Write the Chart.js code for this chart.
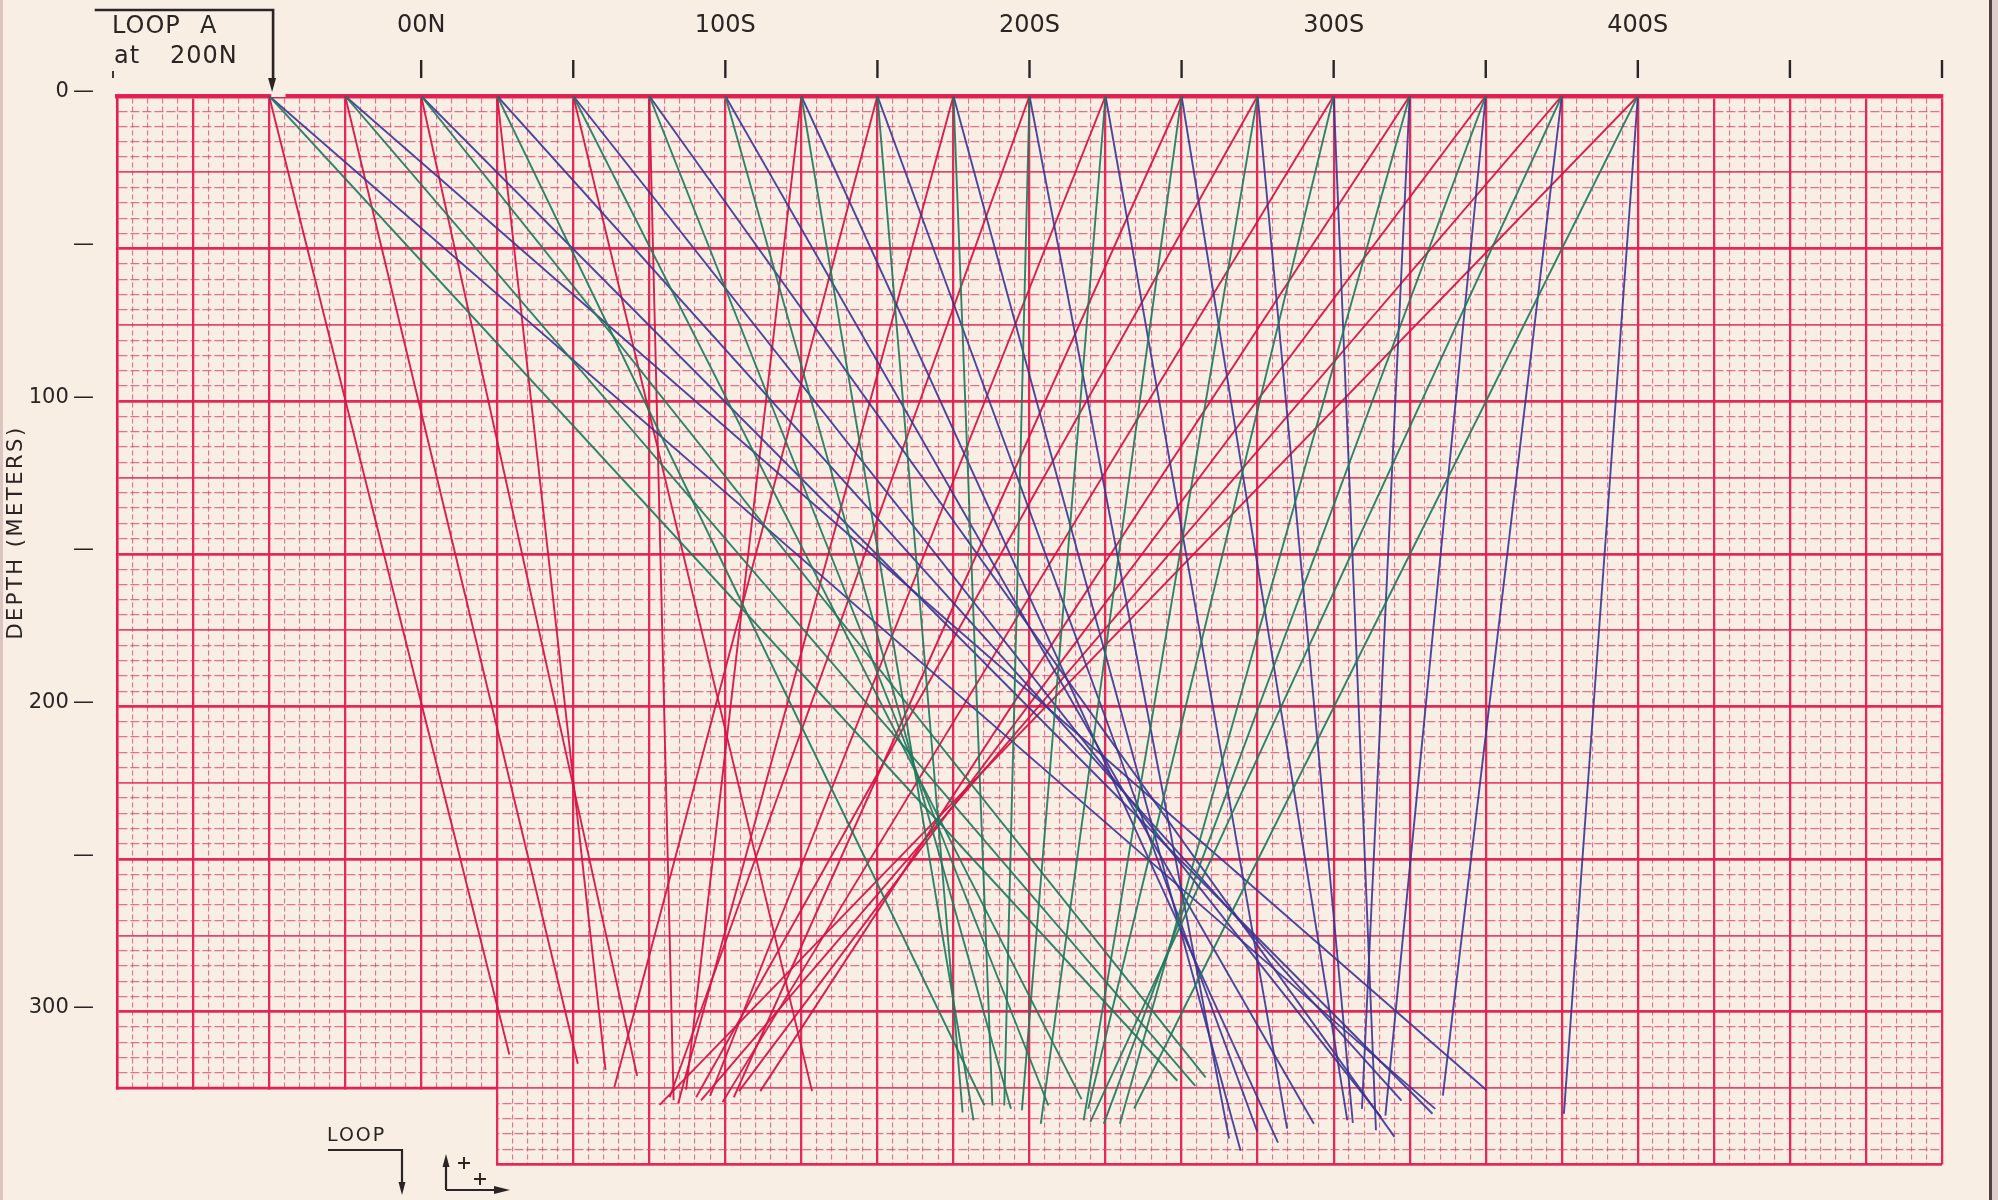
<!DOCTYPE html>
<html>
<head>
<meta charset="utf-8">
<title>Loop A ray section</title>
<script src="https://cdn.jsdelivr.net/npm/chart.js@4.4.1/dist/chart.umd.min.js"></script>
<style>
  html, body { margin: 0; padding: 0; background: #f8eee3; }
  #wrap { width: 1998px; height: 1200px; position: relative; }
  canvas { display: block; }
</style>
</head>
<body>
<div id="wrap"><canvas id="sheet" width="1998" height="1200"></canvas></div>
<script>
// ---- data -------------------------------------------------------------
// surface stations (m along the line, south positive) where each ray starts
const stations = [-50, -25, 0, 25, 50, 75, 100, 125, 150, 175, 200, 225, 250, 275, 300, 325, 350, 375, 400];

// bottom end of each ray: position along the line and depth (m)
const redBottomX      = [29, 51.5, 71, 60.6, 128.5, 83, null, 87.1, 63.5, 84.5, 81.7, 95, 102.8, 90.4, 99.1, 111.5, 104.5, 92, 78.4];
const redBottomDepth  = [314, 317, 321, 319, 326, 329, null, 325.5, 324.7, 330, 328, 327.6, 328, 328, 329.6, 326, 326, 329, 330.5];
const greenBottomX    = [248.6, 254.5, 257.9, 185.2, 217.1, 206.2, 193.9, 181.6, 178, 187.8, 191.7, 197.5, 203.7, 217.8, 219.3, 229.7, 224.4, 220, 234.4];
const greenBottomDepth= [322.6, 324.3, 321.5, 330.7, 328.6, 330.7, 331.8, 335.6, 333, 330.7, 330.7, 332.3, 336.7, 335.6, 331.8, 336.7, 336.7, 336.1, 331.7];
const blueBottomX     = [333.4, 350.3, 332.5, 322.3, 315.6, 320, 293.5, 281.7, 274.9, 269.4, 265.6, 284.7, 304.5, 306.3, 313.9, 309.3, 317, 335.9, 375.7];
const blueBottomDepth = [331.8, 325.7, 333.4, 329.1, 334.5, 341, 336.7, 342.9, 339.3, 345.5, 341.5, 338.3, 335.6, 336.4, 338.8, 331.8, 334, 327.5, 333.4];

// station labels along the top
const stationLabelPos = [0, 100, 200, 300, 400];
const stationLabels   = ['00N', '100S', '200S', '300S', '400S'];

// depth labels down the left side
const depthLabelPos = [0, 50, 100, 150, 200, 250, 300];
const depthLabels   = ['0', '', '100', '', '200', '', '300'];

// ---- sheet geometry ---------------------------------------------------
const X_MIN = -100, X_MAX = 500, DEPTH_MAX = 350;
const WEST_FLOOR = 325;      // sheet is cut at this depth ...
const WEST_FLOOR_END = 25;   // ... west of this station
const LOOP_STATION = -50;

// ---- colours ----------------------------------------------------------
const PAPER = '#f8eee3';
const INK = '#2a2425';
const RULE_MAJOR = 'rgba(228,30,78,0.95)';
const RULE_MID = 'rgba(228,40,88,0.85)';
const RULE_MINOR = 'rgba(224,62,106,0.72)';
const RAY_RED = 'rgba(214,20,68,0.95)';
const RAY_GREEN = 'rgba(30,122,94,0.92)';
const RAY_BLUE = 'rgba(55,52,148,0.9)';

const xGrid = [];
for (let v = X_MIN; v <= X_MAX; v += 5) xGrid.push(v);
const yGrid = [];
for (let v = 0; v <= DEPTH_MAX; v += 5) yGrid.push(v);

function rays(endX, endDepth, color) {
  const out = [];
  stations.forEach((s, i) => {
    if (endX[i] == null) return;
    out.push({
      data: [{ x: s, y: 0 }, { x: endX[i], y: endDepth[i] }],
      borderColor: color,
      borderWidth: 1.9,
      pointRadius: 0,
      fill: false,
      tension: 0
    });
  });
  return out;
}

const datasets = [
  ...rays(greenBottomX, greenBottomDepth, RAY_GREEN),
  ...rays(blueBottomX, blueBottomDepth, RAY_BLUE),
  ...rays(redBottomX, redBottomDepth, RAY_RED)
];

const vWidth = v => (v % 25 === 0 ? 2.3 : 1.1);
const vColor = v => (v % 25 === 0 ? RULE_MAJOR : RULE_MINOR);
const vDash  = v => (v % 25 === 0 ? [] : [5, 3]);
const hWidth = v => (v % 50 === 0 ? 2.7 : (v % 25 === 0 ? 1.7 : 1.2));
const hColor = v => (v % 50 === 0 ? RULE_MAJOR : (v % 25 === 0 ? RULE_MID : RULE_MINOR));
const hDash  = v => (v % 25 === 0 ? [] : [9, 3]);

function arrowHead(ctx, tipX, tipY, dx, dy, len, half) {
  // dx,dy: unit direction the arrow points to
  const bx = tipX - dx * len, by = tipY - dy * len;
  ctx.beginPath();
  ctx.moveTo(tipX, tipY);
  ctx.lineTo(bx - dy * half, by + dx * half);
  ctx.lineTo(bx + dy * half, by - dx * half);
  ctx.closePath();
  ctx.fill();
}

const sheetPlugin = {
  id: 'sheet',
  beforeDraw(chart) {
    const { ctx, width, height } = chart;
    ctx.save();
    ctx.fillStyle = PAPER;
    ctx.fillRect(0, 0, width, height);
    ctx.restore();
  },
  afterDraw(chart) {
    const { ctx, scales: { x, y }, chartArea } = chart;
    const px = v => x.getPixelForValue(v);
    const py = v => y.getPixelForValue(v);
    ctx.save();

    // lower-left corner of the sheet has no ruling
    ctx.fillStyle = PAPER;
    ctx.fillRect(0, py(WEST_FLOOR) + 1.4, px(WEST_FLOOR_END) - 1.2, chart.height);
    ctx.strokeStyle = RULE_MAJOR;
    ctx.lineWidth = 2.6;
    ctx.beginPath();
    ctx.moveTo(px(X_MIN) - 1.2, py(WEST_FLOOR));
    ctx.lineTo(px(WEST_FLOOR_END), py(WEST_FLOOR));
    ctx.stroke();

    // small break in the top rule beside the loop arrow
    ctx.fillStyle = PAPER;
    ctx.fillRect(px(LOOP_STATION) + 2.2, chartArea.top - 6, px(LOOP_STATION + 5) - px(LOOP_STATION) - 1, 7);

    // station tick marks above the sheet
    ctx.strokeStyle = INK;
    ctx.lineWidth = 2.4;
    for (let v = 0; v <= X_MAX; v += 50) {
      ctx.beginPath();
      ctx.moveTo(px(v), 60);
      ctx.lineTo(px(v), 78);
      ctx.stroke();
    }
    ctx.lineWidth = 1.8;
    ctx.beginPath();
    ctx.moveTo(px(X_MIN) - 4, 71);
    ctx.lineTo(px(X_MIN) - 4, 78);
    ctx.stroke();

    // LOOP A box with arrow down to its station
    const ax = px(LOOP_STATION) + 4;
    ctx.lineWidth = 2.6;
    ctx.lineCap = 'square';
    ctx.beginPath();
    ctx.moveTo(96, 10);
    ctx.lineTo(ax, 10);
    ctx.lineTo(ax, 80);
    ctx.stroke();
    ctx.fillStyle = INK;
    arrowHead(ctx, ax - 1, 92, 0, 1, 14, 4);

    ctx.fillStyle = INK;
    ctx.textBaseline = 'alphabetic';
    ctx.textAlign = 'left';
    ctx.font = '24px "DejaVu Sans"';
    ctx.letterSpacing = '1px';
    ctx.fillText('LOOP', 112, 33);
    ctx.fillText('A', 200, 33);
    ctx.fillText('at', 114, 63);
    ctx.fillText('200N', 170, 63);

    // depth axis title
    ctx.save();
    ctx.translate(17, py(143));
    ctx.rotate(-Math.PI / 2);
    ctx.textAlign = 'center';
    ctx.textBaseline = 'middle';
    ctx.font = '21px "DejaVu Sans"';
    ctx.letterSpacing = '2.5px';
    ctx.fillText('DEPTH (METERS)', 0, 0);
    ctx.restore();

    // loop orientation key, bottom left
    ctx.font = '19px "DejaVu Sans"';
    ctx.letterSpacing = '2px';
    ctx.textAlign = 'left';
    ctx.fillText('LOOP', 327, 1141);
    ctx.lineWidth = 2.2;
    ctx.lineCap = 'butt';
    ctx.beginPath();
    ctx.moveTo(328, 1150);
    ctx.lineTo(402, 1150);
    ctx.lineTo(402, 1183);
    ctx.stroke();
    arrowHead(ctx, 402, 1195, 0, 1, 13, 3.5);

    ctx.beginPath();
    ctx.moveTo(446, 1190);
    ctx.lineTo(446, 1166);
    ctx.moveTo(446, 1190);
    ctx.lineTo(496, 1190);
    ctx.stroke();
    arrowHead(ctx, 446, 1154, 0, -1, 13, 3.5);
    arrowHead(ctx, 510, 1190, 1, 0, 16, 4);
    ctx.lineWidth = 2;
    ctx.beginPath();
    ctx.moveTo(458, 1163); ctx.lineTo(470, 1163);
    ctx.moveTo(464, 1157); ctx.lineTo(464, 1169);
    ctx.moveTo(474, 1179); ctx.lineTo(486, 1179);
    ctx.moveTo(480, 1173); ctx.lineTo(480, 1185);
    ctx.stroke();

    // edges of the sheet
    ctx.fillStyle = 'rgba(60,44,48,0.9)';
    ctx.fillRect(1989, 0, 3, chart.height);
    ctx.fillStyle = 'rgba(200,170,175,0.5)';
    ctx.fillRect(1992, 0, 6, chart.height);
    ctx.fillStyle = 'rgba(170,120,130,0.35)';
    ctx.fillRect(0, 0, 3, chart.height);

    ctx.restore();
  }
};

new Chart(document.getElementById('sheet'), {
  type: 'line',
  data: { datasets },
  options: {
    responsive: false,
    animation: false,
    devicePixelRatio: 1,
    layout: { padding: { left: 0, top: 0, right: 34, bottom: 20 } },
    plugins: { legend: { display: false }, tooltip: { enabled: false } },
    scales: {
      x: {
        type: 'linear',
        position: 'top',
        min: X_MIN,
        max: X_MAX,
        afterBuildTicks: s => { s.ticks = xGrid.map(v => ({ value: v })); },
        afterFit: s => { s.height = 96; },
        ticks: {
          autoSkip: false,
          maxRotation: 0,
          minRotation: 0,
          padding: 56,
          color: INK,
          font: { family: 'DejaVu Sans', size: 24 },
          callback: v => {
            const i = stationLabelPos.indexOf(v);
            return i >= 0 ? stationLabels[i] : '';
          }
        },
        grid: {
          drawTicks: false,
          color: c => (c.tick ? vColor(c.tick.value) : RULE_MAJOR),
          lineWidth: c => (c.tick ? vWidth(c.tick.value) : 2)
        },
        border: {
          display: true,
          color: RULE_MAJOR,
          width: 4.5,
          dash: c => (c.tick ? vDash(c.tick.value) : [])
        }
      },
      y: {
        type: 'linear',
        reverse: true,
        min: 0,
        max: DEPTH_MAX,
        afterBuildTicks: s => { s.ticks = yGrid.map(v => ({ value: v })); },
        afterFit: s => { s.width = 117; },
        ticks: {
          autoSkip: false,
          padding: 23,
          labelOffset: -4,
          color: INK,
          font: { family: 'DejaVu Sans', size: 21 },
          callback: v => {
            const i = depthLabelPos.indexOf(v);
            if (i < 0) return '';
            return depthLabels[i] ? depthLabels[i] + '\u2009\u2014' : '\u2014';
          }
        },
        grid: {
          drawTicks: false,
          color: c => (c.tick ? hColor(c.tick.value) : RULE_MAJOR),
          lineWidth: c => (c.tick ? hWidth(c.tick.value) : 2)
        },
        border: {
          display: true,
          color: RULE_MAJOR,
          width: 2.4,
          dash: c => (c.tick ? hDash(c.tick.value) : [])
        }
      }
    }
  },
  plugins: [sheetPlugin]
});
</script>
</body>
</html>
